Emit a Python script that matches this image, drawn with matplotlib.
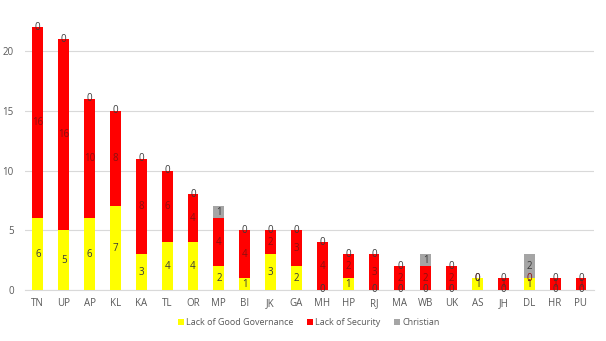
import matplotlib
matplotlib.use("Agg")
import matplotlib.pyplot as plt
import numpy as np

states = ["TN","UP","AP","KL","KA","TL","OR","MP","BI","JK","GA","MH","HP","RJ","MA","WB","UK","AS","JH","DL","HR","PU"]
governance = [6,5,6,7,3,4,4,2,1,3,2,0,1,0,0,0,0,1,0,1,0,0]
security   = [16,16,10,8,8,6,4,4,4,2,3,4,2,3,2,2,2,0,1,0,1,1]
christian  = [0,0,0,0,0,0,0,1,0,0,0,0,0,0,0,1,0,0,0,2,0,0]
series_names = ["Lack of Good Governance", "Lack of Security", "Christian"]
colors = ["#FFFF00", "#FF0000", "#A5A5A5"]
label_colors = ["#3a3a3a", "#8B1010", "#3a3a3a"]

plt.rcParams['font.family'] = ['Open Sans', 'DejaVu Sans']

fig = plt.figure(figsize=(6.06, 3.41), dpi=100)
ax = fig.add_axes([0.041, 0.1496, 0.939, 0.8504])

x = np.arange(len(states))
bottom = np.zeros(len(states))
width = 0.42
for vals, c, lc, name in zip([governance, security, christian], colors, label_colors, series_names):
    v = np.array(vals, dtype=float)
    ax.bar(x, v, width, bottom=bottom, color=c, label=name, zorder=3)
    for xi, b, h in zip(x, bottom, v):
        ax.text(xi, b + h / 2, f"{int(h)}", ha="center", va="center",
                fontsize=7, color=lc, zorder=4)
    bottom = bottom + v

ax.set_xlim(-0.5, len(states) - 0.5)
ax.set_ylim(0, 24.27)
ax.set_yticks([0, 5, 10, 15, 20])
ax.set_xticks(x)
ax.set_xticklabels(states)
ax.tick_params(axis="both", length=0, labelsize=7, colors="#595959")
ax.tick_params(axis="y", pad=8)
ax.tick_params(axis="x", pad=6)
ax.grid(axis="y", color="#D9D9D9", linewidth=0.8, zorder=0)
for s in ["top", "right", "left"]:
    ax.spines[s].set_visible(False)
ax.spines["bottom"].set_color("#D9D9D9")

fig.legend(*ax.get_legend_handles_labels(), loc="center", bbox_to_anchor=(0.51, 0.053),
           ncol=3, frameon=False, fontsize=6.5, handlelength=0.6, handleheight=0.6,
           handletextpad=0.3, columnspacing=1.5, labelcolor="#595959")

fig.savefig("out.png", dpi=100)
